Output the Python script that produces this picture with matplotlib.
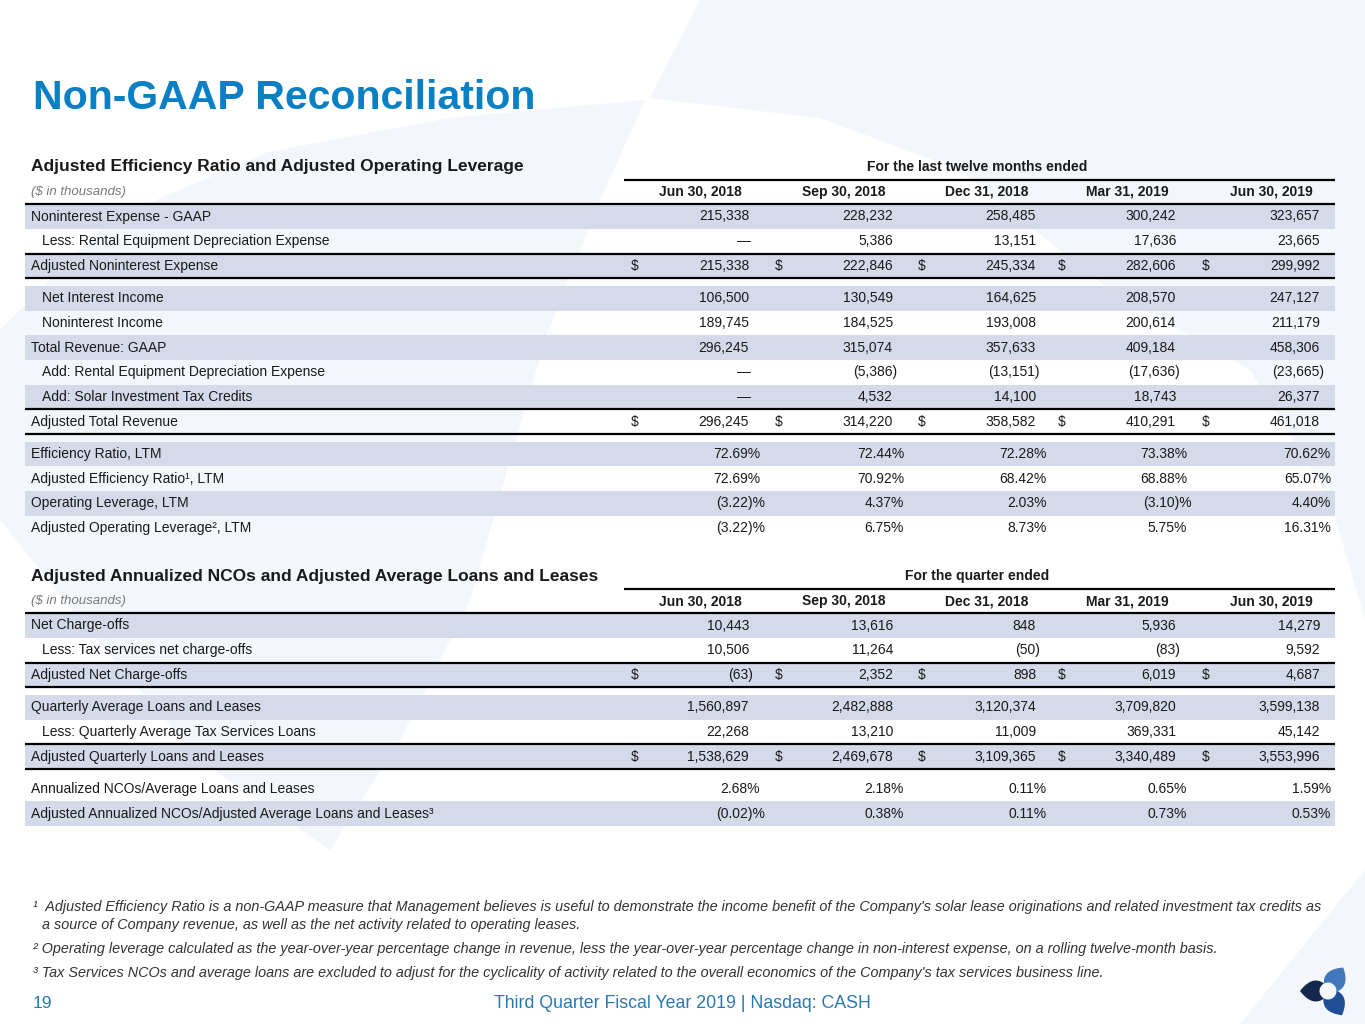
import matplotlib
matplotlib.use('Agg')
import matplotlib.pyplot as plt
import numpy as np
from matplotlib.patches import Polygon

# ---- data ----
ltm_dates = ['Jun 30, 2018', 'Sep 30, 2018', 'Dec 31, 2018', 'Mar 31, 2019', 'Jun 30, 2019']
qtr_dates = ['Jun 30, 2018', 'Sep 30, 2018', 'Dec 31, 2018', 'Mar 31, 2019', 'Jun 30, 2019']

# adjusted efficiency ratio / operating leverage ($ in thousands)
noninterest_expense_gaap = [215338, 228232, 258485, 300242, 323657]
rental_depreciation = [None, 5386, 13151, 17636, 23665]
adj_noninterest_expense = [215338, 222846, 245334, 282606, 299992]
net_interest_income = [106500, 130549, 164625, 208570, 247127]
noninterest_income = [189745, 184525, 193008, 200614, 211179]
total_revenue_gaap = [296245, 315074, 357633, 409184, 458306]
add_rental_depreciation = [None, -5386, -13151, -17636, -23665]
solar_tax_credits = [None, 4532, 14100, 18743, 26377]
adj_total_revenue = [296245, 314220, 358582, 410291, 461018]
efficiency_ratio = [72.69, 72.44, 72.28, 73.38, 70.62]
adj_efficiency_ratio = [72.69, 70.92, 68.42, 68.88, 65.07]
operating_leverage = [-3.22, 4.37, 2.03, -3.10, 4.40]
adj_operating_leverage = [-3.22, 6.75, 8.73, 5.75, 16.31]

# adjusted NCOs / average loans and leases
net_charge_offs = [10443, 13616, 848, 5936, 14279]
tax_services_nco = [10506, 11264, -50, -83, 9592]
adj_net_charge_offs = [-63, 2352, 898, 6019, 4687]
avg_loans = [1560897, 2482888, 3120374, 3709820, 3599138]
avg_tax_loans = [22268, 13210, 11009, 369331, 45142]
adj_avg_loans = [1538629, 2469678, 3109365, 3340489, 3553996]
nco_ratio = [2.68, 2.18, 0.11, 0.65, 1.59]
adj_nco_ratio = [-0.02, 0.38, 0.11, 0.73, 0.53]

footnotes = [
    "\u00b9  Adjusted Efficiency Ratio is a non-GAAP measure that Management believes is useful to demonstrate the income benefit of the Company's solar lease originations and related investment tax credits as",
    "a source of Company revenue, as well as the net activity related to operating leases.",
    "\u00b2 Operating leverage calculated as the year-over-year percentage change in revenue, less the year-over-year percentage change in non-interest expense, on a rolling twelve-month basis.",
    "\u00b3 Tax Services NCOs and average loans are excluded to adjust for the cyclicality of activity related to the overall economics of the Company's tax services business line.",
]

# rows: label, values, kind, indented, shaded, total row ($ signs + rules)
table1 = [
    [("Noninterest Expense - GAAP", noninterest_expense_gaap, 'num', False, True, False),
     ("Less: Rental Equipment Depreciation Expense", rental_depreciation, 'num', True, False, False),
     ("Adjusted Noninterest Expense", adj_noninterest_expense, 'num', False, True, True)],
    [("Net Interest Income", net_interest_income, 'num', True, True, False),
     ("Noninterest Income", noninterest_income, 'num', True, False, False),
     ("Total Revenue: GAAP", total_revenue_gaap, 'num', False, True, False),
     ("Add: Rental Equipment Depreciation Expense", add_rental_depreciation, 'num', True, False, False),
     ("Add: Solar Investment Tax Credits", solar_tax_credits, 'num', True, True, False),
     ("Adjusted Total Revenue", adj_total_revenue, 'num', False, False, True)],
    [("Efficiency Ratio, LTM", efficiency_ratio, 'pct', False, True, False),
     ("Adjusted Efficiency Ratio\u00b9, LTM", adj_efficiency_ratio, 'pct', False, False, False),
     ("Operating Leverage, LTM", operating_leverage, 'pct', False, True, False),
     ("Adjusted Operating Leverage\u00b2, LTM", adj_operating_leverage, 'pct', False, False, False)],
]
table2 = [
    [("Net Charge-offs", net_charge_offs, 'num', False, True, False),
     ("Less: Tax services net charge-offs", tax_services_nco, 'num', True, False, False),
     ("Adjusted Net Charge-offs", adj_net_charge_offs, 'num', False, True, True)],
    [("Quarterly Average Loans and Leases", avg_loans, 'num', False, True, False),
     ("Less: Quarterly Average Tax Services Loans", avg_tax_loans, 'num', True, False, False),
     ("Adjusted Quarterly Loans and Leases", adj_avg_loans, 'num', False, True, True)],
    [("Annualized NCOs/Average Loans and Leases", nco_ratio, 'pct', False, False, False),
     ("Adjusted Annualized NCOs/Adjusted Average Loans and Leases\u00b3", adj_nco_ratio, 'pct', False, True, False)],
]

# ---- style ----
W, H = 1365, 1024
plt.rcParams['font.family'] = ['Liberation Sans', 'DejaVu Sans']

TITLE_BLUE = '#0a80c4'
FOOT_BLUE = '#2a78b0'
SHADE = '#d4daea'
TXT = '#1a1a1a'
LEFT, RIGHT = 25, 1335
COL_RIGHT = [749, 893, 1036, 1176, 1320]
SUFFIX_PAD = {'': 0, ')': 4, '%': 11, ')%': 16}
PITCH = 24.7
GAP = 7.6

fig = plt.figure(figsize=(W / 100, H / 100), dpi=100)
ax = fig.add_axes([0, 0, 1, 1])
ax.set_xlim(0, W)
ax.set_ylim(H, 0)
ax.axis('off')

# faint background watermark (big logo shape)
wm = '#f3f6fa'
ax.add_patch(Polygon([(700, 0), (W, 0), (W, 620), (1330, 500), (1250, 370), (1110, 290),
                      (960, 170), (820, 118), (650, 98)], closed=True, fc=wm, ec='none', zorder=0))
ax.add_patch(Polygon([(268, 152), (450, 118), (645, 100), (600, 200), (545, 340), (513, 450),
                      (470, 600), (400, 740), (330, 850), (200, 760), (80, 620), (0, 520), (0, 330),
                      (110, 220)], closed=True, fc=wm, ec='none', zorder=0))
ax.add_patch(Polygon([(1240, 1024), (W, 870), (W, 1024)], closed=True, fc=wm, ec='none', zorder=0))

ax.text(33, 98, "Non-GAAP Reconciliation", fontsize=29.5, fontweight='bold', color=TITLE_BLUE,
        va='center', ha='left')


def split_value(v, kind):
    if v is None:
        return '\u2014', ''
    if kind == 'pct':
        s = f'{abs(v):.2f}'
        return ('(' + s, ')%') if v < 0 else (s, '%')
    s = f'{abs(v):,}'
    return ('(' + s, ')') if v < 0 else (s, '')


def draw_section(header_y, heading, period, dates, groups):
    ax.text(31, header_y - 25, heading, fontsize=12.5, fontweight='bold', color=TXT, va='center')
    ax.text(977, header_y - 25, period, fontsize=10, fontweight='bold', color=TXT, ha='center', va='center')
    ax.hlines(header_y - 12, 624, RIGHT, color='black', lw=1.6)
    ax.text(31, header_y, "($ in thousands)", fontsize=9.5, style='italic', color='#7a7a7a', va='center')
    for cx, d in zip(COL_RIGHT, dates):
        ax.text(cx - 49, header_y, d, fontsize=10, fontweight='bold', color=TXT, ha='center', va='center')
    ax.hlines(header_y + 12.3, LEFT, RIGHT, color='black', lw=1.6, zorder=3)

    y = header_y + 24.5
    for gi, group in enumerate(groups):
        if gi > 0:
            y += GAP
        for label, vals, kind, indent, shaded, total in group:
            if shaded:
                ax.barh(y, RIGHT - LEFT, left=LEFT, height=PITCH, color=SHADE, zorder=1)
            ax.text(42 if indent else 31, y, label, fontsize=10, color=TXT, va='center', zorder=4)
            for cx, v in zip(COL_RIGHT, vals):
                main, suf = split_value(v, kind)
                pad = 2 if v is None else SUFFIX_PAD[suf]
                ax.text(cx + pad, y, main + suf, fontsize=10, color=TXT, ha='right', va='center', zorder=4)
                if total:
                    ax.text(cx - 118, y, '$', fontsize=10, color=TXT, ha='left', va='center', zorder=4)
            if total:
                ax.hlines([y - PITCH / 2, y + PITCH / 2], LEFT, RIGHT, color='black', lw=1.6, zorder=3)
            y += PITCH


draw_section(192, "Adjusted Efficiency Ratio and Adjusted Operating Leverage",
             "For the last twelve months ended", ltm_dates, table1)
draw_section(601, "Adjusted Annualized NCOs and Adjusted Average Loans and Leases",
             "For the quarter ended", qtr_dates, table2)

# footnotes
for (fx, fy), note in zip([(33, 907), (42, 925), (33, 949), (33, 973)], footnotes):
    ax.text(fx, fy, note, fontsize=10.35, style='italic', color='#333333', va='center')

# footer
ax.text(33, 1003, "19", fontsize=12.5, color=FOOT_BLUE, va='center')
ax.text(682, 1003, "Third Quarter Fiscal Year 2019 | Nasdaq: CASH", fontsize=12.8, color=FOOT_BLUE,
        ha='center', va='center')


# logo: three curved lobes around a white centre
def lobe(cx, cy, theta, color, r=8.5, reach=28.0, half=62, spread=0.8):
    th = np.radians(theta)
    a1, a2 = np.radians(theta - half), np.radians(theta + half)
    tip = np.array([cx + reach * np.cos(th), cy + reach * np.sin(th)])
    p1 = np.array([cx + r * np.cos(a1), cy + r * np.sin(a1)])
    p2 = np.array([cx + r * np.cos(a2), cy + r * np.sin(a2)])
    c1 = np.array([cx + 0.8 * reach * np.cos(th - spread), cy + 0.8 * reach * np.sin(th - spread)])
    c2 = np.array([cx + 0.8 * reach * np.cos(th + spread), cy + 0.8 * reach * np.sin(th + spread)])
    t = np.linspace(0, 1, 24)[:, None]
    e1 = (1 - t) ** 2 * p1 + 2 * (1 - t) * t * c1 + t ** 2 * tip
    e2 = (1 - t) ** 2 * tip + 2 * (1 - t) * t * c2 + t ** 2 * p2
    arc_t = np.linspace(a2, a1, 24)
    arc = np.column_stack([cx + r * np.cos(arc_t), cy + r * np.sin(arc_t)])
    ax.add_patch(Polygon(np.vstack([e1, e2, arc]), closed=True, fc=color, ec='none', zorder=5))


lobe(1328, 991, 180, '#13284c')
lobe(1328, 991, -57, '#4176bb')
lobe(1328, 991, 60, '#1f4e94')

fig.savefig('out.png', dpi=100)
